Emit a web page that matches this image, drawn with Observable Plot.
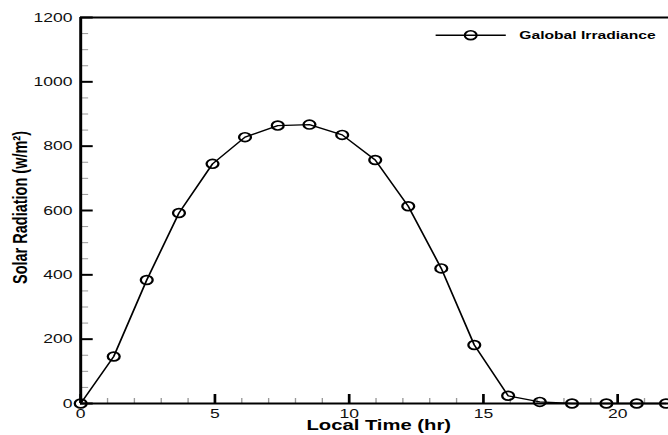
<!DOCTYPE html>
<html><head><meta charset="utf-8">
<script src="https://cdn.jsdelivr.net/npm/d3@7"></script>
<script src="https://cdn.jsdelivr.net/npm/@observablehq/plot@0.6"></script>
<style>
html,body{margin:0;padding:0;background:#fff;overflow:hidden}
#chart svg{display:block}
</style>
</head><body><div id="chart"></div>
<script>
// ---- data ----
const hours = [0, 1.23, 2.46, 3.66, 4.91, 6.12, 7.34, 8.52, 9.74, 10.97, 12.2, 13.43, 14.66, 15.92, 17.1, 18.3, 19.58, 20.71, 21.8];
const irradiance = [0, 146, 384, 592, 745, 828, 864, 867, 835, 757, 613, 420, 182, 24, 5, 0, 0, 0, 0];
const seriesName = "Galobal Irradiance";
const xTicks = [0, 5, 10, 15, 20];
const xMinorTicks = [1, 2, 3, 4, 6, 7, 8, 9, 11, 12, 13, 14, 16, 17, 18, 19, 21];
const yTicks = [0, 200, 400, 600, 800, 1000, 1200];
const yMinorTicks = [50, 100, 150, 250, 300, 350, 450, 500, 550, 650, 700, 750, 850, 900, 950, 1050, 1100, 1150];
const xLabel = "Local Time (hr)";
const yLabel = "Solar Radiation (w/m²)";
const xMax = 21.9;
const yMax = 1200;

const data = hours.map((h, i) => ({hour: h, value: irradiance[i]}));

// The reference is horizontally stretched; draw at an inner width and stretch the SVG.
const W = 495, H = 435, OUT_W = 668;
const ML = 59.3, MR = 0, MT = 17, MB = 32;
const FW = W - ML - MR, FH = H - MT - MB;
const FONT = "'Liberation Sans', Arial, sans-serif";
const fmt = d => String(d);

const legendGlyph = {
  draw(ctx, size) {
    const r = Math.sqrt(size / Math.PI);
    ctx.moveTo(-26, 0); ctx.lineTo(26, 0);
    ctx.moveTo(r, 0); ctx.arc(0, 0, r, 0, 2 * Math.PI);
  }
};

const chart = Plot.plot({
  width: W, height: H,
  marginLeft: ML, marginRight: MR, marginTop: MT, marginBottom: MB,
  style: {fontFamily: FONT, background: "#fff", color: "#000"},
  x: {domain: [0, xMax]},
  y: {domain: [0, yMax]},
  marks: [
    // minor ticks (inward)
    Plot.tickX(xMinorTicks, {x: d => d, insetTop: FH - 5, stroke: "#999", strokeWidth: 1}),
    Plot.tickY(yMinorTicks, {y: d => d, insetRight: FW - 6, stroke: "#999", strokeWidth: 1}),
    // major ticks (inward)
    Plot.tickX(xTicks, {x: d => d, insetTop: FH - 9, stroke: "#000", strokeWidth: 2}),
    Plot.tickY(yTicks, {y: d => d, insetRight: FW - 9.4, stroke: "#000", strokeWidth: 2}),
    // tick labels
    Plot.axisX({ticks: xTicks, tickSize: 0, tickPadding: 5, tickFormat: fmt, label: null, fontSize: 13, fill: "#111"}),
    Plot.axisY({ticks: yTicks, tickSize: 0, tickPadding: 6, tickFormat: fmt, label: null, fontSize: 13, fill: "#111"}),
    // frame (top, left, bottom)
    Plot.ruleY([yMax], {strokeWidth: 2}),
    Plot.ruleY([0], {strokeWidth: 2.2}),
    Plot.ruleX([0], {strokeWidth: 2.2}),
    // data
    Plot.line(data, {x: "hour", y: "value", stroke: "#000", strokeWidth: 1.3}),
    Plot.dot(data, {x: "hour", y: "value", r: 4.4, stroke: "#000", strokeWidth: 1.7, fill: "none"}),
    // legend
    Plot.dot([seriesName], {frameAnchor: "top-left", dx: 289, dy: 17.7, symbol: legendGlyph, r: 4.4, stroke: "#000", strokeWidth: 1.6, fill: "none"}),
    Plot.text([seriesName], {frameAnchor: "top-left", dx: 325, dy: 17.6, textAnchor: "start", lineAnchor: "middle", fontSize: 11.6, fontWeight: "bold", fill: "#000"}),
    // axis titles
    Plot.text([xLabel], {frameAnchor: "bottom", dx: 3, dy: 16, textAnchor: "middle", lineAnchor: "top", fontSize: 15, fontWeight: "bold", fill: "#000"}),
    Plot.text([yLabel], {frameAnchor: "left", dx: -44.5, dy: -3, rotate: -90, textAnchor: "middle", lineAnchor: "middle", fontSize: 14.5, fontWeight: "bold", fill: "#000"})
  ]
});

chart.setAttribute("width", OUT_W);
chart.setAttribute("height", H);
chart.setAttribute("preserveAspectRatio", "none");
chart.style.width = OUT_W + "px";
chart.style.height = H + "px";
chart.style.maxWidth = "none";
chart.style.overflow = "hidden";
document.getElementById("chart").appendChild(chart);
</script>
</body></html>
